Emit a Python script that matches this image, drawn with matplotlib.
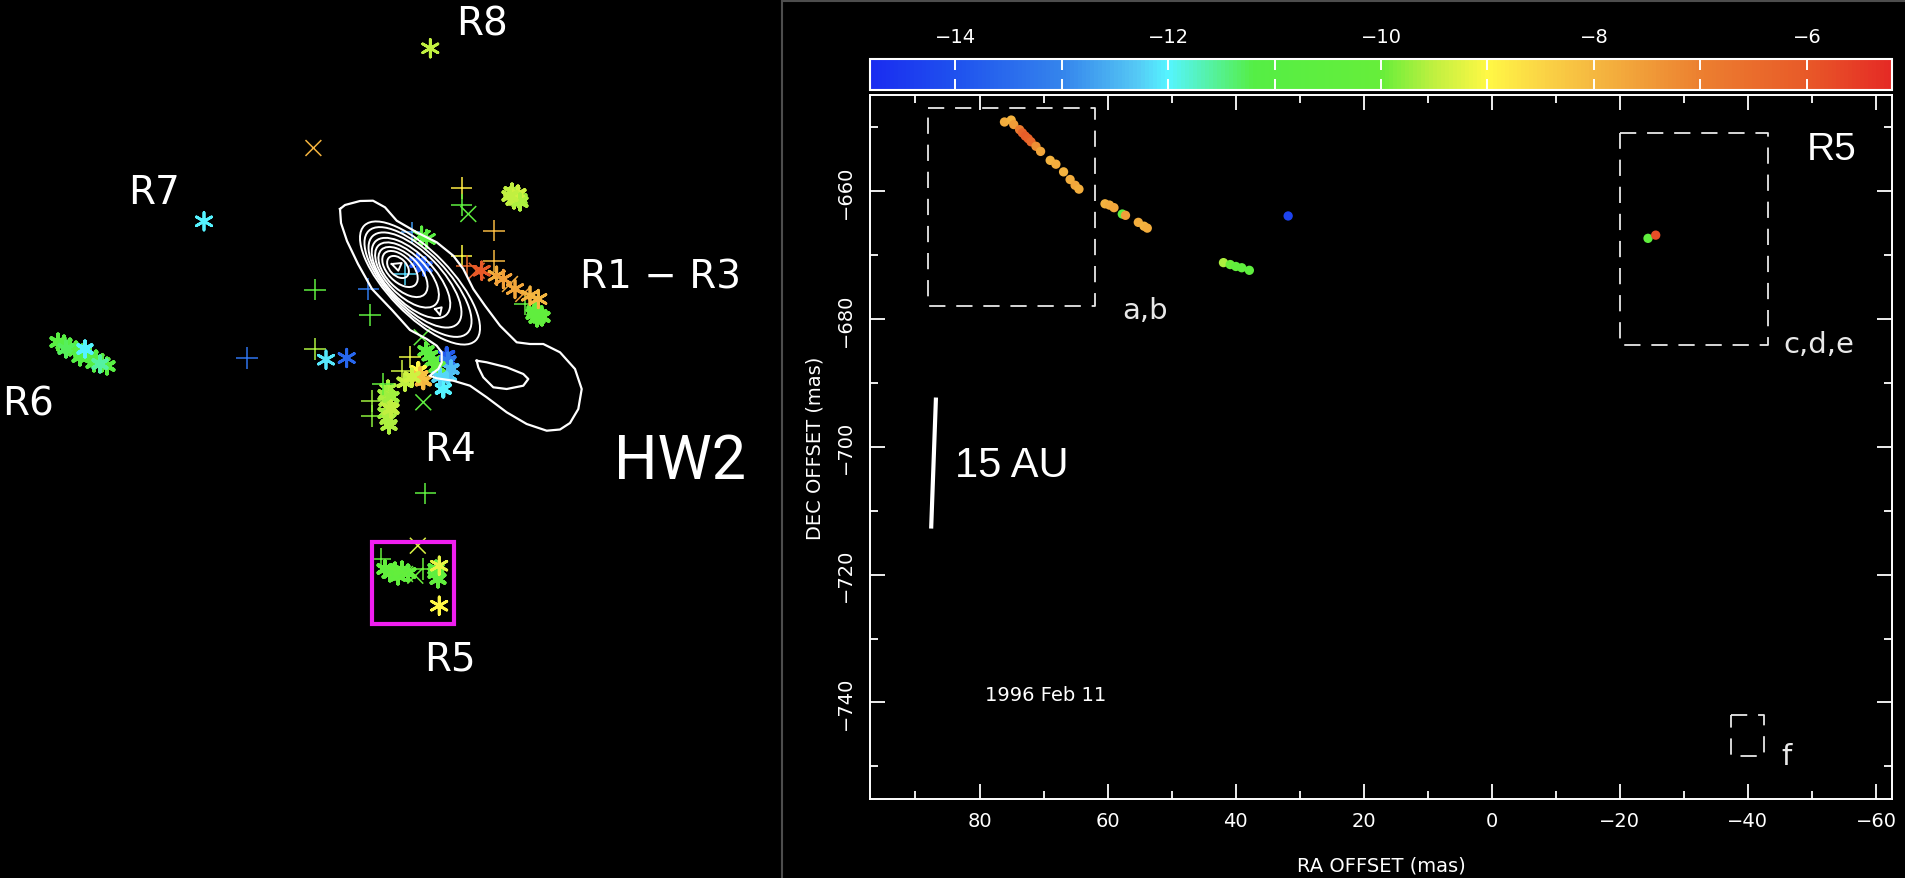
import matplotlib
matplotlib.use("Agg")
import matplotlib.pyplot as plt
import numpy as np
from matplotlib.colors import LinearSegmentedColormap, Normalize
from matplotlib.cm import ScalarMappable
from matplotlib.patches import Rectangle, Ellipse
from matplotlib.ticker import FuncFormatter

W, H = 1905, 879

# velocity colour scale (km/s)
v_min, v_max = -14.8, -5.2
cmap_v = [-14.8, -14.0, -13.0, -12.3, -12.0, -11.2, -10.0, -9.5, -9.0, -8.5, -8.0, -7.0, -6.0, -5.2]
cmap_c = ["#1a2cf0", "#1f52ee", "#3585ec", "#55c8f5", "#55f5ff", "#55ee45", "#66ee3a", "#c0f040",
          "#fff845", "#fbd545", "#f5b840", "#ec8030", "#e85a28", "#e52a25"]

# ---- right panel: maser spots (RA mas, DEC mas, velocity) ----
spot_ra = [76.1, 75.05, 74.65, 73.74, 73.3, 72.85, 72.4, 71.95, 71.18, 70.46, 68.96, 68.07, 66.87, 65.85,
           65.07, 64.47, 60.4, 59.7, 59.0, 57.7, 57.2, 55.2, 54.3, 53.8, 41.9, 40.85, 39.96, 39.05, 37.86,
           31.8, -24.4, -25.6]
spot_dec = [-649.2, -648.9, -649.6, -650.4, -650.9, -651.4, -651.8, -652.3, -653.0, -653.8, -655.2, -655.8,
            -657.0, -658.2, -659.1, -659.7, -662.0, -662.2, -662.6, -663.6, -663.8, -664.9, -665.5, -665.8,
            -671.2, -671.5, -671.8, -672.0, -672.4, -663.9, -667.4, -666.9]
spot_v = [-7.8, -7.9, -7.5, -6.9, -6.3, -6.1, -6.2, -6.4, -7.3, -7.7, -7.9, -7.8, -7.9, -7.8,
          -7.7, -7.8, -7.9, -7.8, -7.7, -10.5, -7.6, -7.8, -7.9, -7.8, -9.6, -10.0, -10.3, -10.4, -10.5,
          -14.3, -10.4, -5.8]

# dashed boxes (RA0, RA1, DEC0, DEC1)
box_names = ["a,b", "c,d,e", "f"]
box_ra0 = [88.0, -20.0, -37.4]
box_ra1 = [62.0, -43.2, -42.5]
box_dec0 = [-647.0, -650.9, -742.0]
box_dec1 = [-678.0, -684.1, -748.3]
box_lab_ra = [57.7, -45.5, -45.3]
box_lab_dec = [-678.6, -684.0, -748.3]

# 15 AU scale bar
bar_ra = [86.8, 87.55]
bar_dec = [-692.3, -712.8]

# colorbar ticks
cb_ticks = [-14, -13, -12, -11, -10, -9, -8, -7, -6]

# ---- left panel (image pixel coordinates) ----
plus_x = [461.7, 461.7, 494, 461.7, 494, 466.7, 411.7, 368.3, 405, 315, 370, 247, 315, 525, 410, 383,
          371.7, 371.7, 401.7, 425.3, 380.5, 422.8]
plus_y = [189, 206, 231.7, 256.7, 262, 267, 233.3, 290, 275, 290.7, 316, 359, 350, 305, 358, 385,
          402, 417, 371.7, 494.3, 560, 570]
plus_v = [-8.8, -10.6, -8.0, -9.0, -8.0, -6.5, -12.8, -13.2, -12.2, -10.5, -10.6, -13.3, -9.6, -10.4,
          -9.2, -10.2, -9.7, -9.8, -9.4, -10.5, -10.2, -10.0]

cross_x = [313.4, 468.3, 476.7, 510, 523.3, 421.7, 423.3, 417.8, 415.3, 405]
cross_y = [149, 215, 271.7, 285, 295, 338.3, 403.3, 546.7, 576.7, 575]
cross_v = [-7.9, -10.6, -6.2, -7.8, -7.6, -10.5, -10.6, -9.3, -10.0, -10.1]

star_x = [430.3, 204, 326, 346.7, 421.7, 426.7, 481.7, 496.7, 503.3, 515, 530, 538.3, 439.2, 439.2]
star_y = [49.3, 222.3, 360.7, 359, 236.7, 240, 271.7, 276.7, 280, 290, 296.7, 300, 566.7, 606.7]
star_v = [-9.5, -12.0, -12.1, -13.6, -10.8, -10.9, -6.0, -7.8, -7.6, -7.7, -7.9, -8.0, -9.2, -9.0]

# dense clusters of spots (R6, R4, R5, R1-R3 ends)
clus_x = [512, 516, 519, 514, 518, 520, 510,
          535, 539, 542, 537, 534,
          430, 426, 433, 446.7, 448, 448.3, 451, 443.3, 418.3, 423.3, 420, 405, 412, 437, 440, 418, 424,
          388, 386, 387, 389, 386, 388, 389, 391, 391,
          58, 64, 70, 76, 82, 90, 96, 102, 107, 66, 80, 94, 85, 100,
          385, 390, 395, 398, 402, 408, 436, 438, 436]
clus_y = [193, 197, 200, 201, 195, 203, 197,
          312, 316, 318, 319, 315,
          356.7, 352, 362, 356.7, 362, 376.7, 370, 390, 371.7, 381.7, 377, 383.3, 378, 368, 378, 263, 268,
          390, 396, 402, 408, 414, 420, 426, 398, 410,
          343, 345, 348, 351, 354, 357, 360, 364, 367, 350, 358, 364, 350, 365,
          570, 574, 572, 577, 571, 574, 574, 580, 570]
clus_v = [-9.5, -9.6, -9.7, -9.5, -9.4, -9.6, -9.5,
          -10.3, -10.4, -10.2, -10.3, -10.4,
          -10.6, -10.7, -10.5, -13.8, -13.2, -12.2, -12.4, -12.0, -9.0, -8.0, -8.2, -9.5, -9.4, -10.3, -12.2,
          -13.9, -13.8,
          -9.6, -9.7, -9.6, -9.5, -9.7, -9.6, -9.6, -9.7, -9.5,
          -10.9, -11.0, -11.1, -11.0, -10.9, -11.2, -11.0, -10.9, -11.0, -11.3, -11.2, -11.1, -12.0, -11.6,
          -10.2, -10.4, -10.1, -10.3, -10.2, -10.5, -10.4, -10.3, -10.6]

# continuum contours
outer_x = [340, 345, 360, 373, 385, 396.7, 416.7, 436.7, 453.3, 463.3, 473.3, 485, 500, 516.7, 530, 543.3,
           560, 575, 581.7, 578.3, 570, 560, 546.7, 526.7, 506.7, 486.7, 470, 453.3, 436.7, 430, 431.7,
           438.3, 441.7, 441.7, 436.7, 426.7, 410, 392, 372, 358, 347, 341, 340]
outer_y = [210, 206, 202, 201.7, 208.3, 221.7, 233.3, 243.3, 256.7, 270, 290, 306.7, 326.7, 343.3, 345,
           345, 353.3, 370, 390, 410, 424, 430.5, 431.7, 425, 413.3, 398.3, 386.7, 381.7, 379.3, 376.7, 375,
           370, 363.3, 353.3, 346.7, 340, 331, 311, 290, 265, 242, 224, 210]
hole_x = [476.7, 486.7, 506.7, 523.3, 528.3, 523.3, 506.7, 493.3, 483.3, 478.3, 476.7]
hole_y = [361.7, 363.3, 368.3, 375, 380, 386.7, 390, 388.3, 378.3, 368.3, 361.7]
peak1_x = [391.7, 401.7, 398.3, 391.7]
peak1_y = [265, 264, 271.7, 265]
peak2_x = [435, 441.7, 440, 435]
peak2_y = [310, 308.3, 316, 310]
ell_cx = [398, 400, 403, 407, 411, 415, 418, 420]
ell_cy = [268, 270, 273, 276, 279, 281, 283, 284]
ell_a = [13, 22, 31, 41, 51, 61, 71, 80]
ell_b = [8.5, 12.5, 16.5, 20, 23.5, 26.5, 29, 31.5]
ell_angle = 46

# labels
lab_text = ["R8", "R7", "R1 \u2212 R3", "R6", "R4", "R5"]
lab_x = [482.5, 154, 660, 28, 450, 450]
lab_y = [25, 193, 278, 405, 450, 660]
r5_box = (372, 542.7, 454.1, 625)

cmap = LinearSegmentedColormap.from_list(
    "vel", [((v - v_min) / (v_max - v_min), c) for v, c in zip(cmap_v, cmap_c)])
norm = Normalize(v_min, v_max)

fig = plt.figure(figsize=(W / 100, H / 100), dpi=100, facecolor="black")

# ================= left panel =================
axl = fig.add_axes([0, 0, 780 / W, 1])
axl.set_xlim(0, 780)
axl.set_ylim(H, 0)
axl.axis("off")

axl.scatter(clus_x, clus_y, c=clus_v, cmap=cmap, norm=norm, marker=(6, 2, 0), s=120, linewidths=2.8, zorder=2)
axl.scatter(plus_x, plus_y, c=plus_v, cmap=cmap, norm=norm, marker="+", s=230, linewidths=1.1, zorder=3)
axl.scatter(cross_x, cross_y, c=cross_v, cmap=cmap, norm=norm, marker="x", s=130, linewidths=1.1, zorder=3)
axl.scatter(star_x, star_y, c=star_v, cmap=cmap, norm=norm, marker=(6, 2, 0), s=160, linewidths=2.0, zorder=3)

axl.plot(outer_x, outer_y, color="white", lw=1.6, zorder=4)
axl.plot(hole_x, hole_y, color="white", lw=1.6, zorder=4)
axl.plot(peak1_x, peak1_y, color="white", lw=1.4, zorder=4)
axl.plot(peak2_x, peak2_y, color="white", lw=1.4, zorder=4)
for cx, cy, a, b in zip(ell_cx, ell_cy, ell_a, ell_b):
    axl.add_patch(Ellipse((cx, cy), 2 * a, 2 * b, angle=ell_angle, fill=False,
                          edgecolor="white", lw=1.4, zorder=4))

axl.add_patch(Rectangle((r5_box[0], r5_box[1]), r5_box[2] - r5_box[0], r5_box[3] - r5_box[1],
                        fill=False, edgecolor="#f01ef0", lw=3, zorder=5))

for t, x, y in zip(lab_text, lab_x, lab_y):
    axl.text(x, y, t, color="white", fontsize=28, family=["DejaVu Sans"],
             ha="center", va="center")
axl.text(680, 462, "HW2", color="white", fontsize=44, family=["Roboto", "DejaVu Sans"],
         fontweight="normal", ha="center", va="center")

# ================= right panel =================
fig.add_artist(Rectangle((781.7 / W, -0.01), 1.02 - 781.7 / W, 1.01 - 1.7 / H,
                         transform=fig.transFigure, fill=False, edgecolor="#4d4d4d", lw=1.5))

ax = fig.add_axes([870 / W, 1 - 800 / H, 1022 / W, 704.5 / H])
ax.set_facecolor("black")
ax.set_xlim(97.1, -62.5)
ax.set_ylim(-755.1, -644.9)
for s in ax.spines.values():
    s.set_color("white")
    s.set_linewidth(1.4)
ax.set_xticks(np.arange(-60, 81, 20))
ax.set_xticks(np.arange(-60, 91, 10), minor=True)
ax.set_yticks(np.arange(-740, -659, 20))
ax.set_yticks(np.arange(-750, -649, 10), minor=True)
ax.tick_params(which="both", direction="in", top=True, right=True, colors="white", labelsize=14, width=1.3)
ax.tick_params(which="major", length=11)
ax.tick_params(which="minor", length=6)
ax.tick_params(axis="x", pad=9)
ax.tick_params(axis="y", pad=11)
for lab in ax.get_yticklabels():
    lab.set_rotation(90)
    lab.set_va("center")

ax.scatter(spot_ra, spot_dec, c=spot_v, cmap=cmap, norm=norm, s=45, edgecolors="none", zorder=3)

for r0, r1, d0, d1 in zip(box_ra0, box_ra1, box_dec0, box_dec1):
    ax.plot([r0, r1, r1, r0, r0], [d0, d0, d1, d1, d0], color="#e8e8e8", lw=1.3,
            linestyle=(0, (9, 6)), zorder=2)
for t, x, y in zip(box_names, box_lab_ra, box_lab_dec):
    ax.text(x, y, t, color="#e8e8e8", fontsize=21, ha="left", va="center")

ax.plot(bar_ra, bar_dec, color="white", lw=3, solid_capstyle="butt")
ax.text(83.8, -702.9, "15 AU", color="white", fontsize=30, family=["Liberation Sans", "DejaVu Sans"],
        ha="left", va="center")
ax.text(-53.0, -653.4, "R5", color="white", fontsize=28, family=["Liberation Sans", "DejaVu Sans"],
        ha="center", va="center")
ax.text(79.2, -738.8, "1996 Feb 11", color="white", fontsize=14, ha="left", va="center")

fig.text(1381 / W, 1 - 866 / H, "RA OFFSET (mas)", color="white", fontsize=14, ha="center", va="center")
fig.text(815 / W, 1 - 448 / H, "DEC OFFSET (mas)", color="white", fontsize=14, rotation=90,
         ha="center", va="center")

# colorbar
cax = fig.add_axes([870 / W, 1 - 90.5 / H, 1022 / W, 30.5 / H])
cb = fig.colorbar(ScalarMappable(norm=norm, cmap=cmap), cax=cax, orientation="horizontal")
cb.set_ticks(cb_ticks)
cax.xaxis.set_major_formatter(FuncFormatter(lambda v, p: f"\u2212{abs(int(v))}" if int(v) % 2 == 0 else ""))
cax.tick_params(axis="x", direction="in", top=True, bottom=True, labeltop=True, labelbottom=False,
                colors="white", length=8, width=1.4, labelsize=14, pad=9)
cb.outline.set_edgecolor("white")
cb.outline.set_linewidth(1.5)

fig.savefig("out.png", dpi=100, facecolor="black")
